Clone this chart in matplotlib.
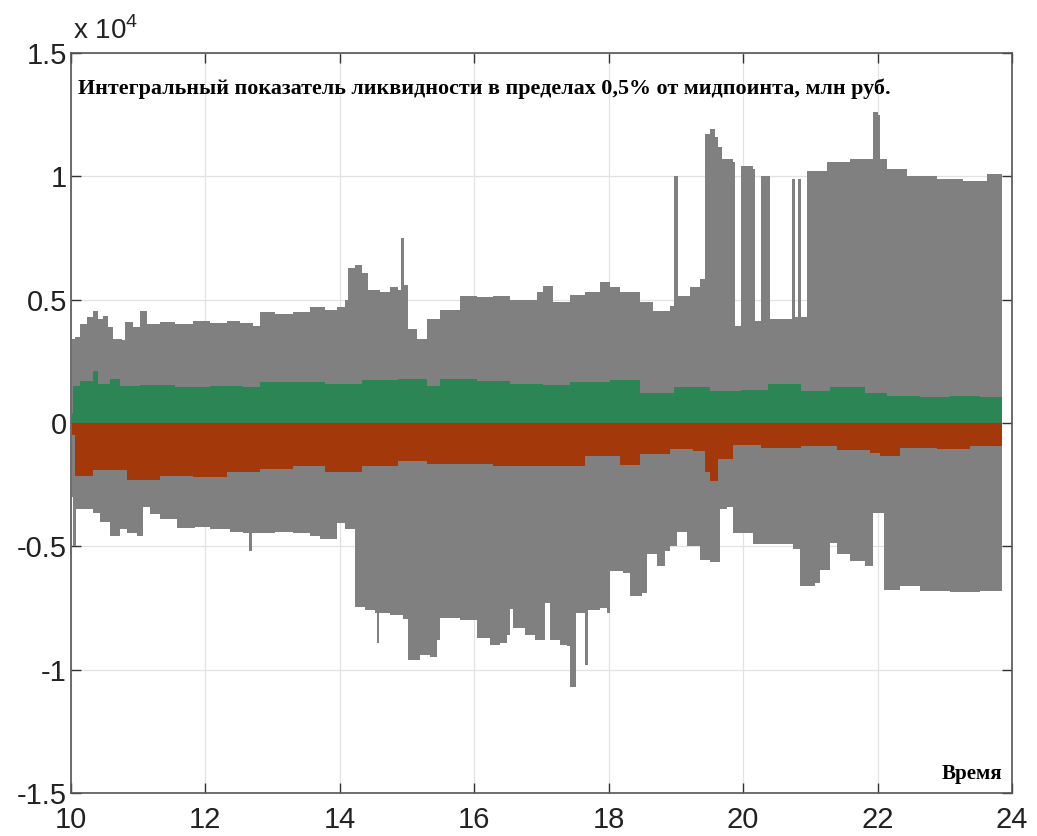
import numpy as np
import matplotlib
matplotlib.use("Agg")
import matplotlib.pyplot as plt

# =============================================================================
# Данные (часы, млн руб.) - огибающие
# =============================================================================

# серая область сверху
t_up = [10.01, 10.06, 10.13, 10.24, 10.33, 10.40, 10.48, 10.55, 10.63, 10.76,
        10.80, 10.92, 11.03, 11.13, 11.32, 11.55, 11.82, 12.07, 12.32, 12.51,
        12.71, 12.81, 13.04, 13.30, 13.56, 13.78, 13.96, 14.08, 14.12, 14.23,
        14.33, 14.42, 14.60, 14.75, 14.87, 14.91, 14.96, 15.01, 15.15, 15.30,
        15.49, 15.79, 16.04, 16.28, 16.53, 16.68, 16.93, 17.02, 17.17, 17.43,
        17.65, 17.87, 18.02, 18.17, 18.47, 18.66, 18.91, 18.97, 19.03, 19.06,
        19.21, 19.36, 19.43, 19.51, 19.58, 19.63, 19.69, 19.85, 19.88, 19.97,
        20.15, 20.18, 20.27, 20.37, 20.40, 20.73, 20.77, 20.82, 20.86, 20.95,
        21.25, 21.59, 21.89, 21.93, 22.01, 22.04, 22.14, 22.44, 22.89, 23.27,
        23.63, 23.85]
v_up = [3400, 3500, 4000, 4300, 4550, 4200, 4350, 3900, 3400, 3350,
        4100, 3900, 4550, 4000, 4100, 4000, 4150, 4050, 4150, 4050,
        3950, 4500, 4400, 4500, 4700, 4600, 4700, 5000, 6300, 6400,
        6100, 5400, 5300, 5500, 5400, 7500, 5600, 3800, 3400, 4200,
        4600, 5150, 5100, 5150, 5000, 5000, 5300, 5550, 4900, 5200,
        5300, 5700, 5500, 5300, 4900, 4550, 4750, 10000, 5150, 5150,
        5500, 5850, 11700, 11900, 11600, 11200, 10700, 10600, 3950, 10400,
        10300, 4150, 10000, 10000, 4200, 9900, 4300, 9900, 4300, 10200,
        10600, 10700, 10700, 12600, 12500, 10700, 10300, 10000, 9900, 9800,
        10100, 10000]

# серая область снизу
t_dn = [10.01, 10.03, 10.07, 10.13, 10.33, 10.43, 10.58, 10.73, 10.83, 10.98,
        11.07, 11.18, 11.32, 11.58, 11.85, 12.07, 12.37, 12.56, 12.65, 12.69,
        13.04, 13.30, 13.56, 13.71, 13.96, 14.08, 14.23, 14.38, 14.52, 14.55,
        14.58, 14.75, 14.94, 15.01, 15.19, 15.34, 15.45, 15.49, 15.79, 15.98,
        16.04, 16.24, 16.38, 16.49, 16.53, 16.58, 16.76, 16.90, 17.05, 17.13,
        17.28, 17.38, 17.43, 17.49, 17.51, 17.65, 17.69, 17.87, 17.98, 18.02,
        18.21, 18.32, 18.50, 18.57, 18.72, 18.84, 18.91, 19.02, 19.17, 19.36,
        19.51, 19.66, 19.76, 19.85, 20.15, 20.40, 20.74, 20.85, 21.07, 21.15,
        21.29, 21.40, 21.59, 21.82, 21.93, 22.10, 22.34, 22.63, 23.08, 23.53,
        23.85]
v_dn = [-3000, -5000, -3500, -3500, -3650, -4000, -4600, -4300, -4450, -4600,
        -3400, -3700, -3900, -4250, -4200, -4300, -4400, -4450, -5200, -4450,
        -4400, -4450, -4600, -4700, -4050, -4300, -7450, -7600, -7700, -8900,
        -7700, -7800, -7950, -9600, -9400, -9500, -8800, -7900, -8000, -8000,
        -8700, -9000, -8900, -8600, -7550, -8300, -8600, -8800, -7300, -8800,
        -9000, -9050, -10700, -10700, -7700, -9800, -7600, -7500, -7700, -6000,
        -6100, -7000, -6900, -5300, -5800, -5200, -5000, -4400, -5000, -5550,
        -5650, -3500, -3400, -4450, -4900, -4900, -5100, -6600, -6500, -5950,
        -4850, -5300, -5600, -5800, -3650, -6750, -6600, -6800, -6850, -6800,
        -6700]

# покупки (зелёная)
t_bid = [10.01, 10.03, 10.13, 10.33, 10.40, 10.58, 10.73, 11.03, 11.55, 12.07,
         12.56, 12.81, 13.30, 13.78, 14.33, 14.87, 15.30, 15.49, 16.04, 16.53,
         17.02, 17.43, 18.02, 18.47, 18.97, 19.51, 19.97, 20.37, 20.86, 21.29,
         21.82, 22.14, 22.63, 23.08, 23.53, 23.85]
v_bid = [400, 1500, 1700, 2100, 1600, 1800, 1500, 1550, 1450, 1500,
         1450, 1650, 1650, 1600, 1750, 1800, 1500, 1800, 1700, 1600,
         1550, 1650, 1750, 1200, 1450, 1300, 1350, 1600, 1300, 1450,
         1200, 1100, 1050, 1100, 1050, 900]

# продажи (красная)
t_ask = [10.01, 10.06, 10.33, 10.83, 11.32, 11.82, 12.32, 12.81, 13.30, 13.78,
         14.33, 14.87, 15.30, 15.79, 16.28, 16.76, 17.17, 17.65, 18.17, 18.47,
         18.91, 19.26, 19.43, 19.51, 19.63, 19.85, 20.27, 20.86, 21.40, 21.89,
         22.04, 22.34, 22.89, 23.38, 23.85]
v_ask = [-500, -2150, -1900, -2300, -2150, -2200, -2000, -1850, -1750, -2000,
         -1750, -1550, -1650, -1650, -1750, -1750, -1750, -1350, -1700, -1250,
         -1050, -1150, -2000, -2350, -1450, -900, -1000, -950, -1100, -1200,
         -1350, -1000, -1050, -950, -850]

title = "Интегральный показатель ликвидности в пределах 0,5% от мидпоинта, млн руб."
xlab = "Время"

# =============================================================================
# Рисунок
# =============================================================================
plt.rcParams['font.family'] = ['Liberation Sans', 'DejaVu Sans']
plt.rcParams['mathtext.fontset'] = 'custom'
plt.rcParams['mathtext.rm'] = 'Liberation Sans'

fig = plt.figure(figsize=(10.37, 8.36), dpi=100)
ax = fig.add_axes([71/1037, 1 - 793/836, (1012 - 71)/1037, (793 - 53)/836])

sc = 1e4
gray = '#808080'
ax.fill_between(t_up, 0, np.array(v_up)/sc, step='post', color=gray, lw=0)
ax.fill_between(t_dn, 0, np.array(v_dn)/sc, step='post', color=gray, lw=0)
ax.fill_between(t_bid, 0, np.array(v_bid)/sc, step='post', color='#2b8555', lw=0)
ax.fill_between(t_ask, 0, np.array(v_ask)/sc, step='post', color='#a3390b', lw=0)

ax.set_xlim(10, 24)
ax.set_ylim(-1.5, 1.5)
ax.set_xticks(np.arange(10, 25, 2))
ax.set_yticks(np.arange(-1.5, 1.51, 0.5))
ax.set_yticklabels(['%g' % v for v in np.arange(-1.5, 1.51, 0.5)])
ax.tick_params(direction='in', length=7, width=1, top=True, right=True,
               labelsize=21, colors='#333333', labelcolor='#222222', pad=3)
ax.tick_params(axis='x', pad=9)
ax.set_axisbelow(True)
ax.grid(True, color='#e2e2e2', lw=0.9)
for s in ax.spines.values():
    s.set_color('#555555')
    s.set_linewidth(1.2)

ax.text(0.007, 0.965, title, transform=ax.transAxes, fontsize=15.8,
        fontweight='bold', family='Liberation Serif', va='top', ha='left')
ax.text(0.99, 0.012, xlab, transform=ax.transAxes, fontsize=15,
        fontweight='bold', family='Liberation Serif', va='bottom', ha='right')
fig.text(73/1037, 1 - 45/836, r'x 10$^4$', fontsize=20, color='#222222',
         va='bottom', ha='left')

fig.savefig('out.png', dpi=100)
